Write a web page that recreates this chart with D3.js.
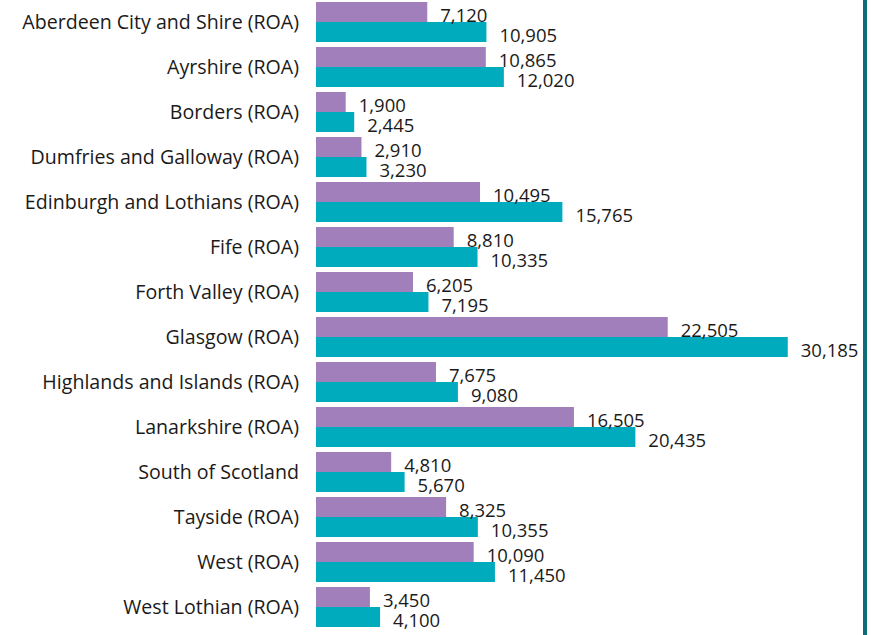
<!DOCTYPE html>
<html>
<head>
<meta charset="utf-8">
<script src="https://cdn.jsdelivr.net/npm/d3@7"></script>
<style>
  body { margin: 0; background: #fff; }
  text { font-family: "Segoe UI", "Open Sans", sans-serif; fill: #1b1a19; }
</style>
</head>
<body>
<div id="chart"></div>
<script>
const width = 871, height = 635;

// data
const regions = [
  "Aberdeen City and Shire (ROA)", "Ayrshire (ROA)", "Borders (ROA)",
  "Dumfries and Galloway (ROA)", "Edinburgh and Lothians (ROA)", "Fife (ROA)",
  "Forth Valley (ROA)", "Glasgow (ROA)", "Highlands and Islands (ROA)",
  "Lanarkshire (ROA)", "South of Scotland", "Tayside (ROA)", "West (ROA)",
  "West Lothian (ROA)"
];
const seriesNames = ["A", "B"];
const valuesA = [7120, 10865, 1900, 2910, 10495, 8810, 6205, 22505, 7675, 16505, 4810, 8325, 10090, 3450];
const valuesB = [10905, 12020, 2445, 3230, 15765, 10335, 7195, 30185, 9080, 20435, 5670, 10355, 11450, 4100];
const colors = ["#a07fba", "#00abbd"];

let data = regions.map(function(r, i) {
  return {region: r, values: [
    {key: "A", value: valuesA[i]},
    {key: "B", value: valuesB[i]}
  ]};
});

let svg = d3.select("#chart")
  .append("svg")
  .attr("width", width)
  .attr("height", height);

let x = d3.scaleLinear()
  .domain([0, 35000])
  .range([316, 863]);

// 45px per group, 40px of bars
let y = d3.scaleBand()
  .domain(regions)
  .range([2, 627])
  .paddingInner(1 / 9);

let ySub = d3.scaleBand()
  .domain(seriesNames)
  .range([0, y.bandwidth()]);

let color = d3.scaleOrdinal().domain(seriesNames).range(colors);

// category labels
svg.append("g")
  .selectAll("text")
  .data(regions)
  .enter()
  .append("text")
  .attr("x", 299)
  .attr("y", function(d) { return y(d) + y.bandwidth() / 2; })
  .attr("dy", "0.35em")
  .style("text-anchor", "end")
  .style("font-size", "19.6px")
  .text(function(d) { return d; });

let groups = svg.selectAll("g.grp")
  .data(data)
  .enter()
  .append("g")
  .attr("class", "grp")
  .attr("transform", function(d) { return `translate(0, ${y(d.region)})`; });

groups.selectAll("rect")
  .data(function(d) { return d.values; })
  .enter()
  .append("rect")
  .attr("x", x(0))
  .attr("y", function(d) { return ySub(d.key); })
  .attr("width", function(d) { return x(d.value) - x(0); })
  .attr("height", ySub.bandwidth())
  .attr("fill", function(d) { return color(d.key); });

groups.selectAll("text.val")
  .data(function(d) { return d.values; })
  .enter()
  .append("text")
  .attr("class", "val")
  .attr("x", function(d) { return x(d.value) + 13; })
  .attr("y", function(d) { return ySub(d.key) + ySub.bandwidth() - 0.5; })
  .style("font-size", "18.5px")
  .text(function(d) { return d3.format(",")(d.value); });

// right border line
svg.append("rect")
  .attr("x", 863)
  .attr("y", 0)
  .attr("width", 4)
  .attr("height", height)
  .attr("fill", "#0f6d78");
</script>
</body>
</html>
